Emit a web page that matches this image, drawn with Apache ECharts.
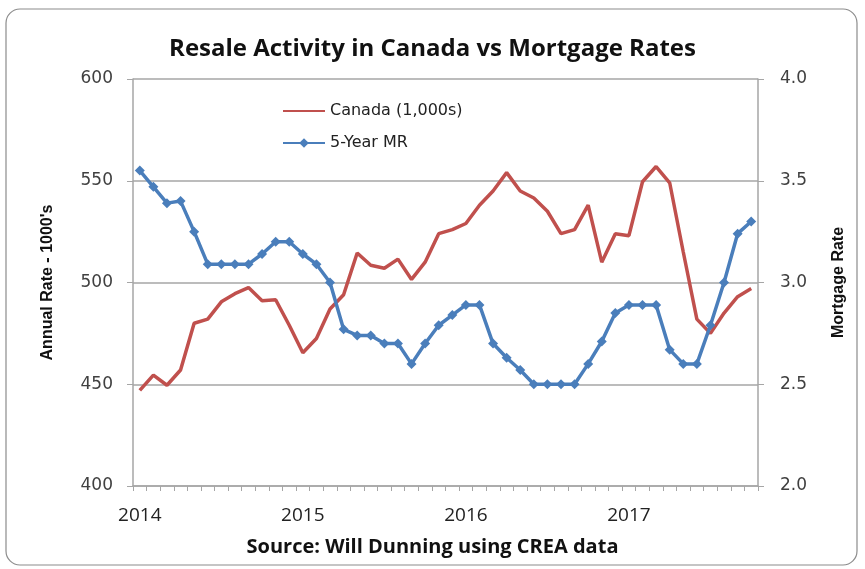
<!DOCTYPE html>
<html>
<head>
<meta charset="utf-8">
<script src="https://cdn.jsdelivr.net/npm/echarts@6/dist/echarts.min.js"></script>
<style>
  html, body { margin: 0; padding: 0; background: #fff; }
  #chart { width: 865px; height: 569px; }
</style>
</head>
<body>
<div id="chart"></div>
<script>
// Resale activity vs mortgage rates, monthly Jan 2014 - Oct 2017

const months = [
  '2014-01', '2014-02', '2014-03', '2014-04', '2014-05', '2014-06',
  '2014-07', '2014-08', '2014-09', '2014-10', '2014-11', '2014-12',
  '2015-01', '2015-02', '2015-03', '2015-04', '2015-05', '2015-06',
  '2015-07', '2015-08', '2015-09', '2015-10', '2015-11', '2015-12',
  '2016-01', '2016-02', '2016-03', '2016-04', '2016-05', '2016-06',
  '2016-07', '2016-08', '2016-09', '2016-10', '2016-11', '2016-12',
  '2017-01', '2017-02', '2017-03', '2017-04', '2017-05', '2017-06',
  '2017-07', '2017-08', '2017-09', '2017-10'
];

// Canada resale activity, annual rate in 1,000s
const canadaSales = [
  447, 454.5, 449.5, 457, 480, 482, 490.5, 494.5, 497.5, 491, 491.5, 479,
  465.5, 472.5, 487, 494, 514.5, 508.5, 507, 511.5, 501.5, 510, 524, 526,
  529, 538, 545, 554, 545, 541.5, 535, 524, 526, 538, 510, 524,
  523, 549.5, 557, 549, 515, 482, 475, 485, 493, 497
];

// 5-year mortgage rate, %
const mortgageRate = [
  3.55, 3.47, 3.39, 3.40, 3.25, 3.09, 3.09, 3.09, 3.09, 3.14, 3.20, 3.20,
  3.14, 3.09, 3.00, 2.77, 2.74, 2.74, 2.70, 2.70, 2.60, 2.70, 2.79, 2.84,
  2.89, 2.89, 2.70, 2.63, 2.57, 2.50, 2.50, 2.50, 2.50, 2.60, 2.71, 2.85,
  2.89, 2.89, 2.89, 2.67, 2.60, 2.60, 2.79, 3.00, 3.24, 3.30
];

const RED = '#c0504d';
const BLUE = '#4a7ebb';
const GRID_GRAY = '#a6a6a6';
const LABEL_COLOR = '#404040';

const chart = echarts.init(document.getElementById('chart'));

chart.setOption({
  animation: false,
  title: {
    text: 'Resale Activity in Canada vs Mortgage Rates',
    left: 'center',
    top: 32,
    textStyle: {
      fontFamily: 'Liberation Sans Narrow, Open Sans, sans-serif',
      fontSize: 24,
      fontWeight: 'bold',
      color: '#111'
    }
  },
  graphic: [
    {
      type: 'rect',
      shape: { x: 6, y: 9, width: 851, height: 556, r: 14 },
      style: { fill: 'none', stroke: '#8c8c8c', lineWidth: 1.2 },
      z: -1
    },
    {
      type: 'text',
      left: 'center',
      top: 537,
      style: {
        text: 'Source: Will Dunning using CREA data',
        fontFamily: 'Liberation Sans Narrow, Open Sans, sans-serif',
        fontSize: 20,
        fontWeight: 'bold',
        fill: '#111'
      }
    }
  ],
  legend: {
    orient: 'vertical',
    left: 277,
    top: 98,
    itemWidth: 42,
    itemHeight: 12,
    itemGap: 16,
    textStyle: {
      fontFamily: 'DejaVu Sans, sans-serif',
      fontSize: 16,
      color: '#222'
    },
    data: [
      { name: 'Canada (1,000s)', itemStyle: { opacity: 0 } },
      { name: '5-Year MR' }
    ]
  },
  grid: {
    left: 133,
    right: 107,
    top: 79,
    bottom: 83
  },
  xAxis: {
    type: 'category',
    data: months,
    boundaryGap: true,
    axisLine: { lineStyle: { color: GRID_GRAY, width: 1.5 } },
    axisTick: {
      show: true,
      interval: 0,
      length: 5,
      lineStyle: { color: GRID_GRAY }
    },
    axisLabel: {
      interval: (i) => i % 12 === 0,
      formatter: (v) => v.slice(0, 4),
      margin: 20,
      fontFamily: 'Liberation Sans Narrow, Open Sans, sans-serif',
      fontSize: 19,
      color: '#222'
    }
  },
  yAxis: [
    {
      type: 'value',
      name: "Annual Rate - 1000's",
      nameLocation: 'middle',
      nameGap: 77,
      nameRotate: 90,
      nameTextStyle: {
        fontFamily: 'Liberation Sans, Arial, sans-serif',
        fontSize: 16,
        fontWeight: 'bold',
        color: '#111'
      },
      min: 400,
      max: 600,
      interval: 50,
      axisLine: { show: true, lineStyle: { color: GRID_GRAY, width: 1.5 } },
      axisTick: { show: true, length: 6, lineStyle: { color: GRID_GRAY } },
      splitLine: { lineStyle: { color: GRID_GRAY, width: 1.5 } },
      axisLabel: {
        margin: 20,
        fontFamily: 'DejaVu Sans, sans-serif',
        fontSize: 17,
        color: LABEL_COLOR
      }
    },
    {
      type: 'value',
      name: 'Mortgage Rate',
      nameLocation: 'middle',
      nameGap: 73,
      nameRotate: 90,
      nameTextStyle: {
        fontFamily: 'Liberation Sans, Arial, sans-serif',
        fontSize: 16,
        fontWeight: 'bold',
        color: '#111'
      },
      min: 2,
      max: 4,
      interval: 0.5,
      axisLine: { show: true, lineStyle: { color: GRID_GRAY, width: 1.5 } },
      axisTick: { show: true, length: 6, lineStyle: { color: GRID_GRAY } },
      splitLine: { show: false },
      axisLabel: {
        margin: 22,
        formatter: (v) => v.toFixed(1),
        fontFamily: 'DejaVu Sans, sans-serif',
        fontSize: 17,
        color: LABEL_COLOR
      }
    }
  ],
  series: [
    {
      name: 'Canada (1,000s)',
      type: 'line',
      yAxisIndex: 0,
      data: canadaSales,
      symbol: 'none',
      lineStyle: { color: RED, width: 3.5 },
      itemStyle: { color: RED }
    },
    {
      name: '5-Year MR',
      type: 'line',
      yAxisIndex: 1,
      data: mortgageRate,
      symbol: 'diamond',
      symbolSize: 10,
      showAllSymbol: true,
      lineStyle: { color: BLUE, width: 3.5 },
      itemStyle: { color: BLUE }
    }
  ]
});
</script>
</body>
</html>
